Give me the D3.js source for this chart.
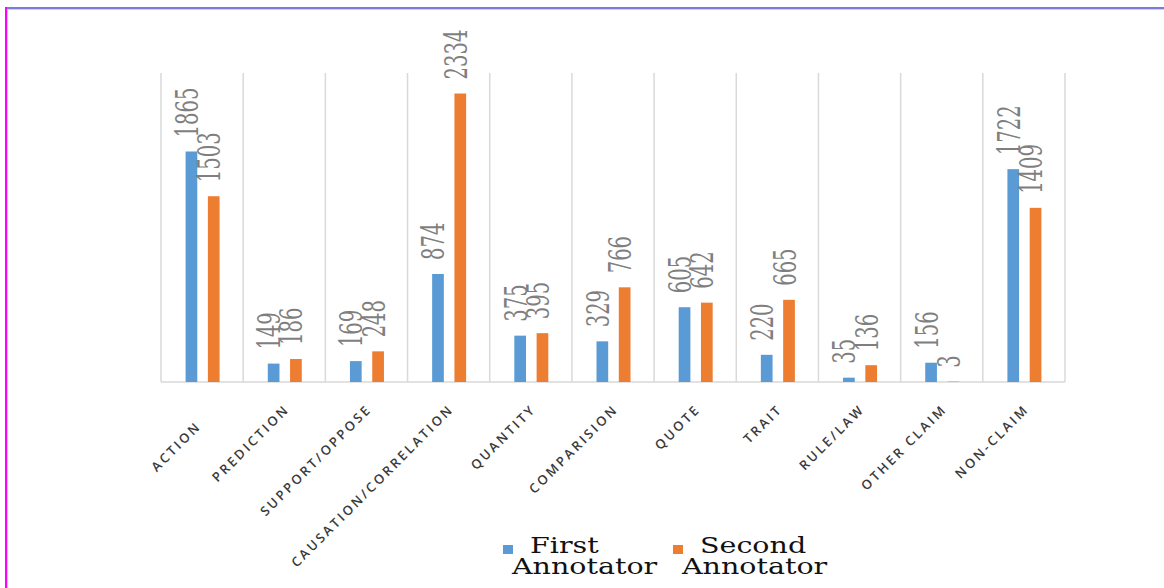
<!DOCTYPE html>
<html>
<head>
  <meta charset="UTF-8">
  <style>
    body { margin: 0; background: #fff; }
    .cat { font-family: "Open Sans", sans-serif; font-size: 13px; font-weight: 600; letter-spacing: 2.6px; fill: #3a3a3a; }
    .val { font-family: "DejaVu Serif", serif; font-size: 20px; fill: #7f7f7f; }
    .leg { font-family: "DejaVu Serif", serif; font-size: 23px; fill: #111; }
  </style>
</head>
<body>
<svg></svg>
<script src="https://d3js.org/d3.v7.min.js"></script>
<script>

let width = 1164, height = 588;

let categories = ["ACTION", "PREDICTION", "SUPPORT/OPPOSE", "CAUSATION/CORRELATION", "QUANTITY",
    "COMPARISION", "QUOTE", "TRAIT", "RULE/LAW", "OTHER CLAIM", "NON-CLAIM"];
let series = ["First Annotator", "Second Annotator"];
let first = [1865, 149, 169, 874, 375, 329, 605, 220, 35, 156, 1722];
let second = [1503, 186, 248, 2334, 395, 766, 642, 665, 136, 3, 1409];
let colors = ["#5b9bd5", "#ed7d31"];

let svg = d3.select("svg")
    .attr("width", width)
    .attr("height", height);

// frame edges
svg.append("rect").attr("x", 5).attr("y", 7).attr("width", width).attr("height", 2).attr("fill", "#7b7bdb");
svg.append("rect").attr("x", 7).attr("y", 9).attr("width", width).attr("height", 1).attr("fill", "#b9dcf3");
svg.append("rect").attr("x", 5).attr("y", 7).attr("width", 2).attr("height", height).attr("fill", "#ff00ff");
svg.append("rect").attr("x", 7).attr("y", 9).attr("width", 1).attr("height", height).attr("fill", "#b9dcf3");

let x0 = d3.scaleBand().domain(categories).range([161, 1065]);
let x1 = d3.scaleBand().domain(series).range([-16.5, 17.5]).paddingInner(0.475);
let y = d3.scaleLinear().domain([0, 2500]).range([382, 73]);

// vertical grid lines between categories
let grid = svg.append("g");
grid.selectAll("line")
    .data(categories.concat(["end"]))
    .enter().append("line")
    .attr("x1", (d, i) => i < categories.length ? x0(d) : x0.range()[1])
    .attr("x2", (d, i) => i < categories.length ? x0(d) : x0.range()[1])
    .attr("y1", y(2500))
    .attr("y2", y(0))
    .attr("stroke", "#d9d9d9")
    .attr("stroke-width", 1.5);

grid.append("line")
    .attr("x1", 161).attr("x2", 1065)
    .attr("y1", y(0)).attr("y2", y(0))
    .attr("stroke", "#d9d9d9")
    .attr("stroke-width", 1.5);

let rows = categories.map((c, i) => ({cat: c, vals: [first[i], second[i]]}));

let groups = svg.append("g").selectAll("g")
    .data(rows)
    .enter().append("g")
    .attr("transform", d => "translate(" + (x0(d.cat) + x0.bandwidth() / 2) + ",0)");

groups.selectAll("rect")
    .data(d => d.vals.map((v, k) => ({s: series[k], v: v, k: k})))
    .enter().append("rect")
    .attr("x", d => x1(d.s))
    .attr("width", x1.bandwidth())
    .attr("y", d => y(d.v))
    .attr("height", d => y(0) - y(d.v))
    .attr("fill", d => colors[d.k]);

groups.selectAll("text")
    .data(d => d.vals.map((v, k) => ({s: series[k], v: v, k: k})))
    .enter().append("text")
    .attr("class", "val")
    .attr("transform", d => "translate(" + (x1(d.s) + x1.bandwidth() / 2 + 6.5) + "," + (y(d.v) - 14) + ") rotate(-90) scale(0.98,1.55)")
    .text(d => d.v);

// category labels
svg.append("g").selectAll("text")
    .data(categories)
    .enter().append("text")
    .attr("class", "cat")
    .attr("text-anchor", "end")
    .attr("transform", (d, i) => "translate(" + (x0(d) + x0.bandwidth() / 2 + 6 - (i === 0 ? 6 : 0)) + "," + (410 + (i === 0 ? 17 : 0)) + ") rotate(-45)")
    .text(d => d);

// legend
let legend = svg.append("g").selectAll("g")
    .data(series)
    .enter().append("g")
    .attr("transform", (d, i) => "translate(" + (503 + i * 170) + ",0)");

legend.append("rect")
    .attr("x", 0).attr("y", 545)
    .attr("width", 10).attr("height", 9)
    .attr("fill", (d, i) => colors[i]);

legend.append("text")
    .attr("class", "leg")
    .attr("transform", "translate(27,553) scale(1.24,0.97)")
    .text(d => d.split(" ")[0]);

legend.append("text")
    .attr("class", "leg")
    .attr("transform", "translate(9,574) scale(1.24,0.97)")
    .text(d => d.split(" ")[1]);

</script>
</body>
</html>
